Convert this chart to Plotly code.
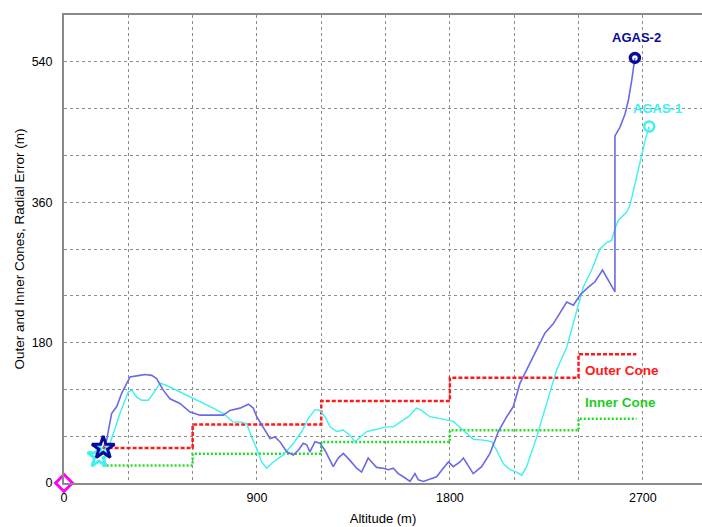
import plotly.graph_objects as go

# AGAS-2 radial error vs altitude
agas2_alt = [183, 199, 222, 246, 269, 308, 354, 378, 409, 432, 463, 494, 541, 588, 634, 696, 743,
             774, 821, 860, 883, 899, 937, 961, 984, 1007, 1039, 1070, 1093, 1116, 1132, 1147,
             1171, 1194, 1217, 1256, 1279, 1303, 1334, 1365, 1388, 1419, 1435, 1458, 1489, 1513,
             1536, 1559, 1583, 1614, 1637, 1653, 1676, 1699, 1738, 1769, 1793, 1816, 1847, 1863,
             1909, 1948, 1987, 2026, 2065, 2096, 2127, 2158, 2205, 2243, 2282, 2313, 2345, 2376,
             2407, 2446, 2477, 2512, 2539, 2570, 2570, 2593, 2617, 2632, 2648, 2663]
agas2_err = [45, 55, 89, 98, 115, 136, 138, 139, 138, 134, 119, 108, 102, 91, 87, 87, 87,
             93, 96, 101, 96, 85, 68, 57, 59, 53, 40, 36, 42, 51, 49, 40,
             53, 51, 42, 21, 32, 38, 29, 19, 14, 32, 27, 20, 19, 17,
             19, 12, 8, 2, 12, 4, 2, 4, 8, 19, 27, 21, 27, 32,
             12, 21, 38, 66, 85, 98, 128, 145, 170, 192, 204, 217, 232, 228,
             241, 251, 258, 273, 260, 245, 445, 456, 473, 490, 516, 545]

# AGAS-1 radial error vs altitude
agas1_alt = [163, 215, 261, 300, 316, 339, 362, 393, 417, 448, 479, 525, 572, 634, 696, 743, 790,
             829, 852, 875, 899, 922, 945, 976, 1023, 1070, 1109, 1140, 1171, 1194, 1217, 1241,
             1272, 1303, 1334, 1357, 1381, 1412, 1443, 1474, 1505, 1536, 1567, 1606, 1645, 1668,
             1707, 1754, 1785, 1816, 1863, 1909, 1956, 1995, 2018, 2049, 2080, 2111, 2135, 2158,
             2205, 2252, 2298, 2345, 2392, 2422, 2461, 2500, 2530, 2554, 2570, 2586, 2624, 2640,
             2663, 2694, 2714, 2730]
agas1_err = [34, 51, 89, 117, 119, 110, 106, 106, 115, 128, 125, 119, 113, 104, 96, 89, 78,
             78, 76, 59, 44, 27, 19, 27, 36, 51, 66, 83, 94, 93, 85, 72,
             66, 68, 61, 53, 59, 66, 68, 70, 72, 72, 78, 85, 96, 93,
             85, 83, 81, 79, 68, 56, 55, 53, 42, 25, 17, 14, 10, 21,
             59, 102, 145, 174, 219, 251, 273, 300, 308, 311, 326, 337, 347, 356,
             383, 420, 443, 457]

# Cone boundaries (step edges and levels)
cone_edges = [180, 600, 1200, 1800, 2400, 2670]
outer_cone = [45, 75, 105, 135, 165]
inner_cone = [22.5, 37.5, 52.5, 67.5, 82.5]

x_ticks = [0, 900, 1800, 2700]
y_ticks = [0, 180, 360, 540]


def step_xy(edges, levels):
    xs, ys = [], []
    for i, lv in enumerate(levels):
        xs += [edges[i], edges[i + 1]]
        ys += [lv, lv]
    return xs, ys


FONT = "Arial, Liberation Sans, sans-serif"
BLUE = "#6a6ae8"
CYAN = "#3ef0f0"
NAVY = "#0a0a9a"
RED = "#ff1a1a"
GREEN = "#22dd22"

fig = go.Figure()

ox, oy = step_xy(cone_edges, outer_cone)
ix, iy = step_xy(cone_edges, inner_cone)
fig.add_trace(go.Scatter(x=ox, y=oy, mode="lines",
                         line=dict(color=RED, width=2.5, dash="4px,2px")))
fig.add_trace(go.Scatter(x=ix, y=iy, mode="lines",
                         line=dict(color=GREEN, width=2.5, dash="2px,2px")))

fig.add_trace(go.Scatter(x=agas1_alt, y=agas1_err, mode="lines",
                         line=dict(color=CYAN, width=1.4)))
fig.add_trace(go.Scatter(x=agas2_alt, y=agas2_err, mode="lines",
                         line=dict(color=BLUE, width=1.6)))

# start markers
fig.add_trace(go.Scatter(x=[agas1_alt[0]], y=[agas1_err[0]], mode="markers",
                         marker=dict(symbol="star-open", size=17, color=CYAN,
                                     line=dict(color=CYAN, width=3))))
fig.add_trace(go.Scatter(x=[agas2_alt[0]], y=[agas2_err[0]], mode="markers",
                         marker=dict(symbol="star-open", size=17, color=NAVY,
                                     line=dict(color=NAVY, width=3))))
# end markers
fig.add_trace(go.Scatter(x=[agas1_alt[-1]], y=[agas1_err[-1]], mode="markers",
                         marker=dict(symbol="circle-open", size=10, color=CYAN,
                                     line=dict(color=CYAN, width=2.5))))
fig.add_trace(go.Scatter(x=[agas2_alt[-1]], y=[agas2_err[-1]], mode="markers",
                         marker=dict(symbol="circle-open", size=9, color=NAVY,
                                     line=dict(color=NAVY, width=3.5))))
# origin marker
fig.add_trace(go.Scatter(x=[0], y=[0], mode="markers", cliponaxis=False,
                         marker=dict(symbol="diamond-open", size=13, color="#ff00ff",
                                     line=dict(color="#ff00ff", width=3))))

fig.add_annotation(x=agas2_alt[-1], y=agas2_err[-1], text="<b>AGAS-2</b>", showarrow=False,
                   yshift=20, xshift=2, font=dict(family=FONT, size=13, color=NAVY))
fig.add_annotation(x=agas1_alt[-1], y=agas1_err[-1], text="<b>AGAS-1</b>", showarrow=False,
                   yshift=18, xshift=8, font=dict(family=FONT, size=13, color=CYAN))
fig.add_annotation(x=2400, y=outer_cone[-1], text="<b>Outer Cone</b>", showarrow=False,
                   xanchor="left", xshift=4, yshift=-16,
                   font=dict(family=FONT, size=13.5, color=RED))
fig.add_annotation(x=2400, y=inner_cone[-1], text="<b>Inner Cone</b>", showarrow=False,
                   xanchor="left", xshift=4, yshift=16,
                   font=dict(family=FONT, size=13.5, color="#22cc22"))

grid = dict(showgrid=True, gridcolor="#8c8c8c", gridwidth=1, griddash="dot")

fig.update_layout(
    width=702, height=527,
    margin=dict(l=64, r=0, t=15, b=44),
    paper_bgcolor="white", plot_bgcolor="white",
    showlegend=False,
    font=dict(family=FONT, size=12, color="black"),
    xaxis=dict(range=[0, 2976], tickvals=x_ticks, ticks="", **grid,
               minor=dict(dtick=300, tick0=0, **grid),
               showline=True, linecolor="#8a8a8a", linewidth=2, mirror=True,
               zeroline=False, tickfont=dict(size=12.5), ticklabelstandoff=2,
               title=dict(text="Altitude (m)", font=dict(size=13), standoff=10)),
    yaxis=dict(range=[0, 600], tickvals=y_ticks, ticks="", **grid,
               minor=dict(dtick=60, tick0=0, **grid),
               showline=True, linecolor="#8a8a8a", linewidth=2, mirror=False,
               zeroline=False, tickfont=dict(size=12.5), ticklabelstandoff=7,
               title=dict(text="Outer and Inner Cones, Radial Error (m)",
                          font=dict(size=13.5), standoff=4)),
)

fig.write_html("out.html")
